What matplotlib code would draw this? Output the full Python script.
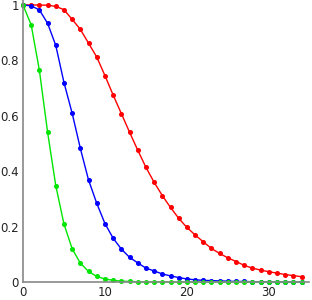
import matplotlib
matplotlib.use("Agg")
import matplotlib.pyplot as plt

x = list(range(35))
red = [1.0, 1.0, 1.0, 0.999, 0.995, 0.983, 0.948, 0.912, 0.862, 0.812,
       0.745, 0.675, 0.608, 0.541, 0.476, 0.414, 0.360, 0.312, 0.269, 0.230,
       0.197, 0.170, 0.145, 0.121, 0.103, 0.087, 0.074, 0.060, 0.050, 0.043,
       0.037, 0.032, 0.027, 0.023, 0.019]
blue = [1.0, 0.997, 0.982, 0.934, 0.854, 0.720, 0.609, 0.482, 0.368, 0.284,
        0.211, 0.158, 0.119, 0.089, 0.069, 0.050, 0.040, 0.029, 0.022, 0.016,
        0.011, 0.008, 0.006, 0.005, 0.004, 0.003, 0.002, 0.002, 0.001, 0.001,
        0.001, 0.001, 0.0, 0.0, 0.0]
green = [1.0, 0.928, 0.764, 0.541, 0.348, 0.209, 0.120, 0.068, 0.038, 0.020,
         0.011, 0.006, 0.003, 0.002, 0.001, 0.0, 0.0, 0.0, 0.0, 0.0,
         0.0, 0.0, 0.0, 0.0, 0.0, 0.0, 0.0, 0.0, 0.0, 0.0,
         0.0, 0.0, 0.0, 0.0, 0.0]
xticks = [0, 10, 20, 30]
yticks = [0, 0.2, 0.4, 0.6, 0.8, 1]
yticklabels = ["0", "0.2", "0.4", "0.6", "0.8", "1"]

fig = plt.figure(figsize=(3.12, 3.0), dpi=100)
ax = fig.add_axes([23/312, 18/300, (309-23)/312, 282/300])
for ys, c in [(red, "#ff0000"), (blue, "#0000ff"), (green, "#00e600")]:
    ax.plot(x, ys, color=c, lw=1.0, marker="o", ms=2.6, mec=c, mfc=c, clip_on=False)
ax.set_xlim(0, 34.9)
ax.set_ylim(0, 1.018)
ax.set_xticks(xticks)
ax.set_xticklabels([str(t) for t in xticks])
ax.set_yticks(yticks)
ax.set_yticklabels(yticklabels)
ax.tick_params(length=0, labelsize=8.5, colors="#222222", pad=3)
for s in ["top", "right"]:
    ax.spines[s].set_visible(False)
for s in ["left", "bottom"]:
    ax.spines[s].set_color("#888888")
    ax.spines[s].set_linewidth(1.2)
fig.savefig("out.png", dpi=100)
